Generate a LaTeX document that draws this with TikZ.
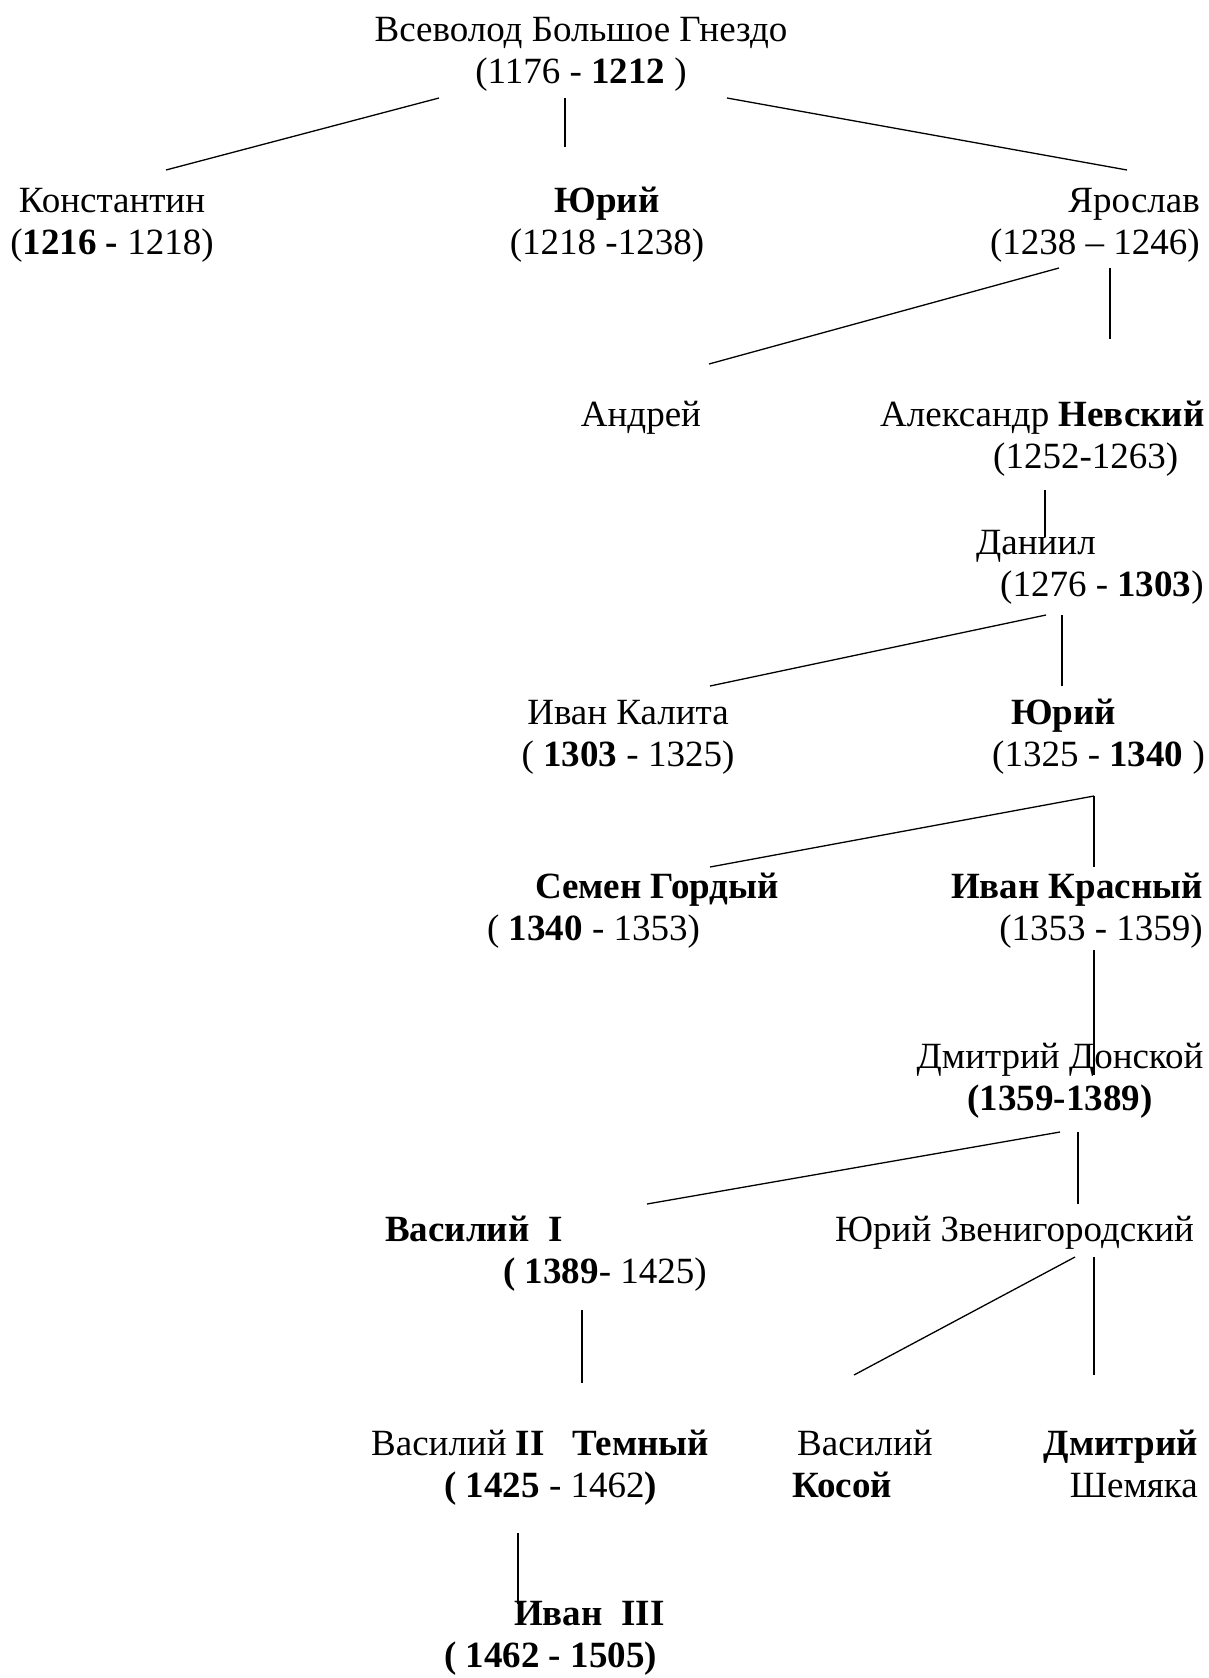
\documentclass[tikz,border=0pt]{standalone}
\usepackage{fontspec}
\setmainfont{Liberation Serif}
\begin{document}
\begin{tikzpicture}[x=1pt,y=-1pt]
\tikzset{nom/.style={inner sep=0pt, font=\fontsize{37}{42}\selectfont}}
\useasboundingbox (0,0) rectangle (1209,1678);
\node[nom, align=center, anchor=base] (vsevolod) at (581,83) {Всеволод Большое Гнездо\\(1176 - \textbf{1212} )};
\node[nom, align=center, anchor=base] (konst) at (112,254) {Константин\\(\textbf{1216 -} 1218)};
\node[nom, align=center, anchor=base] (yuri1) at (607,254) {\textbf{Юрий}\\(1218 -1238)};
\node[nom, align=right, anchor=base east] (yaroslav) at (1200,254) {Ярослав\\(1238 – 1246)};
\node[nom, anchor=base] (andrey) at (641,426) {Андрей};
\node[nom, align=left, anchor=base west] (alexander) at (880,468) {Александр \textbf{Невский}\\\hspace*{113pt}(1252-1263)};
\node[nom, align=left, anchor=base west] (daniil) at (976,596) {Даниил\\\hspace*{24pt}(1276 - \textbf{1303})};
\node[nom, align=center, anchor=base] (kalita) at (628,766) {Иван Калита\\( \textbf{1303} - 1325)};
\node[nom, align=left, anchor=base west] (yuri2) at (992,766) {\hspace*{19pt}\textbf{Юрий}\\(1325 - \textbf{1340} )};
\node[nom, align=left, anchor=base west] (semen) at (487,940) {\hspace*{48pt}\textbf{Семен Гордый}\\( \textbf{1340} - 1353)};
\node[nom, align=right, anchor=base east] (krasny) at (1203,940) {\textbf{Иван Красный}\\(1353 - 1359)};
\node[nom, align=center, anchor=base] (donskoy) at (1060,1110) {Дмитрий Донской\\\textbf{(1359-1389)}};
\node[nom, align=left, anchor=base west] (vasily1) at (385,1283) {\textbf{Василий~~I}\\\hspace*{118pt}\textbf{( 1389}- 1425)};
\node[nom, anchor=base west] (zvenig) at (835,1241) {Юрий Звенигородский};
\node[nom, align=left, anchor=base west] (vasily2) at (371,1497) {Василий \textbf{II~~~Темный}\\\hspace*{73pt}\textbf{( 1425} - 1462\textbf{)}};
\node[nom, align=left, anchor=base west] (kosoy) at (792,1497) {\hspace*{5pt}Василий\\\textbf{Косой}};
\node[nom, align=right, anchor=base east] (shemyaka) at (1198,1497) {\textbf{Дмитрий}\\Шемяка};
\node[nom, align=left, anchor=base west] (ivan3) at (444,1667) {\hspace*{70pt}\textbf{Иван~~III}\\\textbf{( 1462 - 1505)}};
\coordinate (v1) at (439,98);
\coordinate (k1) at (166,170);
\coordinate (v2) at (565,98);
\coordinate (y1) at (565,147);
\coordinate (v3) at (727,98);
\coordinate (ja1) at (1127,170);
\coordinate (ja2) at (1059,268);
\coordinate (an1) at (709,364);
\coordinate (ja3) at (1110,268);
\coordinate (al1) at (1110,339);
\coordinate (al2) at (1045,490);
\coordinate (da1) at (1045,537);
\coordinate (da2) at (1046,615);
\coordinate (ka1) at (710,686);
\coordinate (da3) at (1062,615);
\coordinate (yu1) at (1062,686);
\coordinate (yu2) at (1094,796);
\coordinate (se1) at (710,867);
\coordinate (kr1) at (1094,867);
\coordinate (kr2) at (1094,950);
\coordinate (do1) at (1094,1075);
\coordinate (do2) at (1060,1132);
\coordinate (va1) at (647,1204);
\coordinate (do3) at (1078,1132);
\coordinate (zv1) at (1078,1204);
\coordinate (va2) at (582,1310);
\coordinate (vt1) at (582,1383);
\coordinate (zv2) at (1075,1257);
\coordinate (ko1) at (854,1375);
\coordinate (zv3) at (1094,1257);
\coordinate (sh1) at (1094,1375);
\coordinate (vt2) at (518,1533);
\coordinate (iv1) at (518,1604);
\draw[line width=1.3pt] (v1) -- (k1);
\draw[line width=1.3pt] (v2) -- (y1);
\draw[line width=1.3pt] (v3) -- (ja1);
\draw[line width=1.3pt] (ja2) -- (an1);
\draw[line width=1.3pt] (ja3) -- (al1);
\draw[line width=1.3pt] (al2) -- (da1);
\draw[line width=1.3pt] (da2) -- (ka1);
\draw[line width=1.3pt] (da3) -- (yu1);
\draw[line width=1.3pt] (yu2) -- (se1);
\draw[line width=1.3pt] (yu2) -- (kr1);
\draw[line width=1.3pt] (kr2) -- (do1);
\draw[line width=1.3pt] (do2) -- (va1);
\draw[line width=1.3pt] (do3) -- (zv1);
\draw[line width=1.3pt] (va2) -- (vt1);
\draw[line width=1.3pt] (zv2) -- (ko1);
\draw[line width=1.3pt] (zv3) -- (sh1);
\draw[line width=1.3pt] (vt2) -- (iv1);
\end{tikzpicture}
\end{document}
